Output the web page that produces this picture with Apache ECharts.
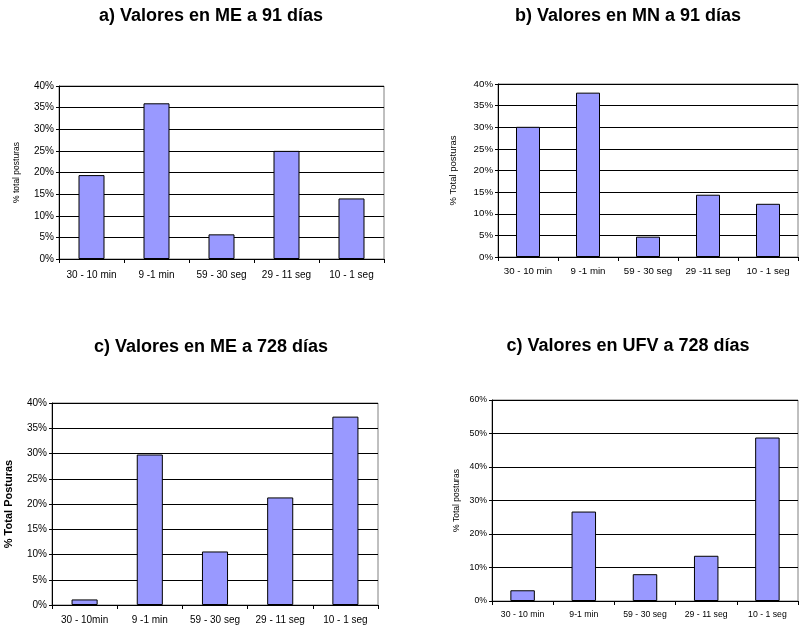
<!DOCTYPE html>
<html>
<head>
<meta charset="utf-8">
<script src="https://cdn.jsdelivr.net/npm/echarts@6/dist/echarts.min.js"></script>
<style>
html,body{margin:0;padding:0;background:#fff;}
#c{width:799px;height:625px;}
</style>
</head>
<body>
<div id="c"></div>
<script>
// ---- data ----
var titles = ["a) Valores en ME a 91 días", "b) Valores en MN a 91 días", "c) Valores en ME a 728 días", "c) Valores en UFV a 728 días"];
var yNames = ["% total posturas", "% Total posturas", "% Total Posturas", "% Total posturas"];
var catsA = ["30 - 10 min", "9 -1 min", "59 - 30 seg", "29 - 11 seg", "10 - 1 seg"];
var catsB = ["30 - 10 min", "9 -1 min", "59 - 30 seg", "29 -11 seg", "10 - 1 seg"];
var catsC = ["30 - 10min", "9 -1 min", "59 - 30 seg", "29 - 11 seg", "10 - 1 seg"];
var catsD = ["30 - 10 min", "9-1 min", "59 - 30 seg", "29 - 11 seg", "10 - 1 seg"];
var valsA = [19.4, 36.0, 5.7, 25.0, 14.0];
var valsB = [30.1, 38.0, 4.7, 14.4, 12.3];
var valsC = [1.1, 29.8, 10.6, 21.3, 37.3];
var valsD = [3.2, 26.7, 8.0, 13.5, 48.8];
var yMax = [40, 40, 40, 60];
var yStep = [5, 5, 5, 10];

// ---- layout ----
var FONT = "Liberation Sans, Arial, sans-serif";
var grids = [
  {left: 59, top: 86, width: 325, height: 173},
  {left: 498, top: 84, width: 300, height: 173},
  {left: 52, top: 403, width: 326, height: 203},
  {left: 492, top: 400, width: 306, height: 201}
];
var titlePos = [[211, 7], [628, 7], [211, 338], [628, 337]];
var nameGaps = [38, 40, 38, 31];
var nameSize = [8.5, 9.5, 11, 8.5];
var labelSize = [10, 9.7, 10, 8.7];
var xMargin = [11, 9, 10, 9];
var cats = [catsA, catsB, catsC, catsD];
var vals = [valsA, valsB, valsC, valsD];

var option = {
  animation: false,
  backgroundColor: "#fff",
  title: titles.map(function (t, i) {
    return {text: t, left: titlePos[i][0], top: titlePos[i][1], textAlign: "center", padding: 0,
      textStyle: {fontFamily: FONT, fontSize: 18, fontWeight: "bold", color: "#000"}};
  }),
  grid: grids.map(function (g) {
    return Object.assign({show: true, borderColor: "#808080", borderWidth: 1, backgroundColor: "#fff", containLabel: false}, g);
  }),
  xAxis: cats.map(function (c, i) {
    return {type: "category", gridIndex: i, data: c, boundaryGap: true,
      axisLine: {lineStyle: {color: "#000", width: 1}},
      axisTick: {show: true, alignWithLabel: false, length: 4, lineStyle: {color: "#000"}},
      axisLabel: {interval: 0, margin: xMargin[i], fontFamily: FONT, fontSize: labelSize[i], color: "#000"},
      splitLine: {show: false}};
  }),
  yAxis: vals.map(function (v, i) {
    return {type: "value", gridIndex: i, min: 0, max: yMax[i], interval: yStep[i],
      name: yNames[i], nameLocation: "middle", nameRotate: 90, nameGap: nameGaps[i],
      nameTextStyle: {fontFamily: FONT, fontSize: nameSize[i], color: "#000", fontWeight: i === 2 ? "bold" : "normal"},
      axisLine: {show: true, lineStyle: {color: "#000", width: 1}},
      axisTick: {show: true, length: 3, lineStyle: {color: "#000"}},
      axisLabel: {formatter: "{value}%", margin: 5, fontFamily: FONT, fontSize: labelSize[i], color: "#000"},
      splitLine: {show: true, lineStyle: {color: "#000", width: 1}}};
  }),
  series: vals.map(function (v, i) {
    return {type: "bar", xAxisIndex: i, yAxisIndex: i, data: v, barWidth: "40%",
      itemStyle: {color: "#9999FF", borderColor: "#000", borderWidth: 1},
      silent: true};
  })
};
var chart = echarts.init(document.getElementById("c"), null, {renderer: "canvas"});
chart.setOption(option);
</script>
</body>
</html>
